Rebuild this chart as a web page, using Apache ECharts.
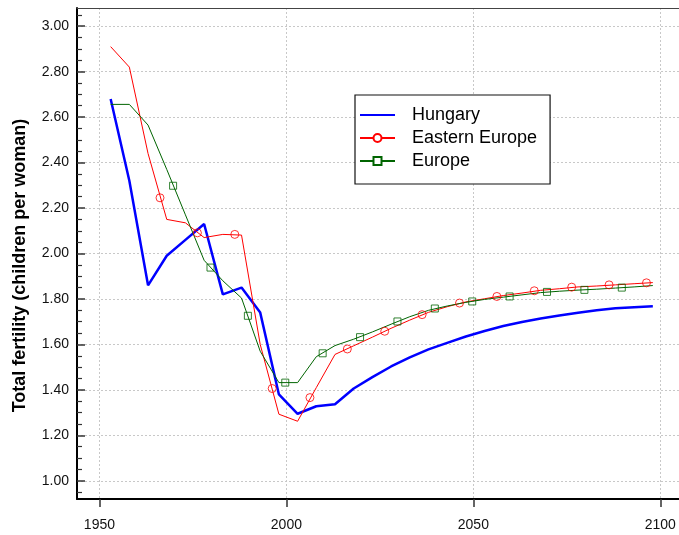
<!DOCTYPE html>
<html>
<head>
<meta charset="utf-8">
<script src="https://cdn.jsdelivr.net/npm/echarts@6/dist/echarts.min.js"></script>
<style>
html,body{margin:0;padding:0;background:#fff;}
#chart{width:679px;height:535px;}
</style>
</head>
<body>
<div id="chart"></div>
<script>
// ---- data ----
const years = [1953,1958,1963,1968,1973,1978,1983,1988,1993,1998,2003,2008,2013,2018,2023,2028,2033,2038,2043,2048,2053,2058,2063,2068,2073,2078,2083,2088,2093,2098];
const hungary = [2.68,2.32,1.86,1.99,2.06,2.13,1.82,1.85,1.74,1.38,1.295,1.328,1.337,1.406,1.456,1.503,1.543,1.578,1.607,1.635,1.659,1.681,1.699,1.714,1.727,1.739,1.750,1.759,1.764,1.768];
const easternEurope = [2.91,2.82,2.44,2.15,2.135,2.07,2.084,2.081,1.60,1.293,1.262,1.41,1.556,1.594,1.632,1.671,1.707,1.741,1.766,1.787,1.801,1.815,1.826,1.838,1.845,1.853,1.857,1.862,1.867,1.872];
const europe = [2.656,2.656,2.565,2.37,2.17,1.970,1.880,1.804,1.570,1.432,1.432,1.546,1.595,1.623,1.655,1.689,1.722,1.750,1.769,1.785,1.798,1.808,1.818,1.828,1.834,1.839,1.843,1.848,1.853,1.859];
const eeMarkerYears = [1966.2,1976.2,1986.2,1996.2,2006.3,2016.3,2026.3,2036.3,2046.3,2056.3,2066.3,2076.3,2086.3,2096.3];
const eeMarkerValues = [2.245,2.091,2.084,1.406,1.366,1.58,1.658,1.731,1.782,1.811,1.836,1.852,1.862,1.871];
const euMarkerYears = [1969.7,1979.7,1989.7,1999.7,2009.7,2019.7,2029.7,2039.7,2049.7,2059.7,2069.7,2079.7,2089.7];
const euMarkerValues = [2.298,1.938,1.726,1.432,1.561,1.632,1.701,1.758,1.789,1.811,1.831,1.840,1.850];
const xTickValues = [1950,2000,2050,2100];
const yTickValues = [1.0,1.2,1.4,1.6,1.8,2.0,2.2,2.4,2.6,2.8,3.0];
const seriesNames = ['Hungary','Eastern Europe','Europe'];
const titleText = 'Hungary';
const yAxisTitle = 'Total fertility (children per woman)';

// minor ticks: 4 subdivisions between major ticks, plus one beyond each end
const yMinorValues = [];
for (let i = -1; i < yTickValues.length; i++) {
  const base = i < 0 ? yTickValues[0] - 0.2 : yTickValues[i];
  for (let k = 1; k <= 3; k++) {
    const v = +(base + k * 0.05).toFixed(2);
    if (v >= 0.93 && v <= 3.07) yMinorValues.push(v);
  }
}

const zip = (a, b) => a.map((v, i) => [v, b[i]]);
const FONT = '"Liberation Sans", Arial, sans-serif';
const X_MIN = 1944, X_MAX = 2105, Y_MIN = 0.92, Y_MAX = 3.08;

const chart = echarts.init(document.getElementById('chart'));
chart.setOption({
  animation: false,
  backgroundColor: '#fff',
  title: {
    text: titleText,
    left: 366, top: -18, padding: 0,
    textStyle: { fontFamily: FONT, fontSize: 18, fontWeight: 'bold', color: '#000' }
  },
  grid: { left: 77, right: 0, top: 8, bottom: 36 },
  legend: {
    orient: 'vertical',
    left: 355, top: 95,
    data: [
      { name: seriesNames[0], itemStyle: { opacity: 0 } },
      { name: seriesNames[1] },
      { name: seriesNames[2] }
    ],
    itemWidth: 35, itemHeight: 10, itemGap: 3,
    padding: [10, 13, 13, 4],
    borderColor: '#111', borderWidth: 1.2,
    backgroundColor: '#fff',
    textStyle: { fontFamily: FONT, fontSize: 18, color: '#000', lineHeight: 20, padding: [0, 0, 0, 12] }
  },
  xAxis: [
    {
      type: 'value', min: X_MIN, max: X_MAX, position: 'bottom',
      axisLine: { show: true, onZero: false, lineStyle: { color: '#000', width: 2 } },
      axisTick: { show: true, length: 8, inside: false, customValues: xTickValues, lineStyle: { color: '#333', width: 1.5 } },
      axisLabel: { customValues: xTickValues, margin: 19, fontFamily: FONT, fontSize: 14, color: '#111',
        formatter: v => String(v) },
      splitLine: { show: true, lineStyle: { color: '#c8c8c8', width: 1, type: [2, 2] } }
    },
    {
      type: 'value', min: X_MIN, max: X_MAX, position: 'top',
      axisLine: { show: true, onZero: false, lineStyle: { color: '#444', width: 1.2 } },
      axisTick: { show: false }, axisLabel: { show: false }, splitLine: { show: false }
    }
  ],
  yAxis: [
    {
      type: 'value', min: Y_MIN, max: Y_MAX,
      name: yAxisTitle, nameLocation: 'middle', nameGap: 48, nameRotate: 90,
      nameTextStyle: { fontFamily: FONT, fontSize: 18, fontWeight: 'bold', color: '#000', padding: [0, 24, 0, 0] },
      axisLine: { show: true, onZero: false, lineStyle: { color: '#000', width: 2 } },
      axisTick: { show: true, inside: true, length: 8, customValues: yTickValues, lineStyle: { color: '#333', width: 1.5 } },
      axisLabel: { customValues: yTickValues, margin: 8, fontFamily: FONT, fontSize: 14, color: '#111',
        formatter: v => v.toFixed(2) },
      splitLine: { show: true, lineStyle: { color: '#c8c8c8', width: 1, type: [2, 2] } }
    },
    {
      type: 'value', min: Y_MIN, max: Y_MAX, position: 'left',
      axisLine: { show: false },
      axisTick: { show: true, inside: true, length: 5, customValues: yMinorValues, lineStyle: { color: '#333', width: 1.2 } },
      axisLabel: { show: false },
      splitLine: { show: false }
    }
  ],
  series: [
    {
      name: seriesNames[0], type: 'line', data: zip(years, hungary),
      symbol: 'none', lineStyle: { color: '#0000ff', width: 2.5 }, itemStyle: { color: '#0000ff' }, z: 3
    },
    {
      name: seriesNames[1], type: 'line', data: zip(years, easternEurope),
      symbol: 'emptyCircle', showSymbol: false, lineStyle: { color: '#ff0000', width: 1 }, itemStyle: { color: '#ff0000' }, z: 4
    },
    {
      name: seriesNames[2], type: 'line', data: zip(years, europe),
      symbol: 'emptyRect', showSymbol: false, lineStyle: { color: '#006400', width: 1 }, itemStyle: { color: '#006400' }, z: 5
    },
    {
      name: 'ee-markers', type: 'scatter', data: zip(eeMarkerYears, eeMarkerValues),
      symbol: 'circle', symbolSize: 8,
      itemStyle: { color: 'transparent', borderColor: '#ff0000', borderWidth: 1 }, z: 6
    },
    {
      name: 'eu-markers', type: 'scatter', data: zip(euMarkerYears, euMarkerValues),
      symbol: 'rect', symbolSize: 7,
      itemStyle: { color: 'transparent', borderColor: '#006400', borderWidth: 1 }, z: 7
    }
  ]
});
</script>
</body>
</html>
